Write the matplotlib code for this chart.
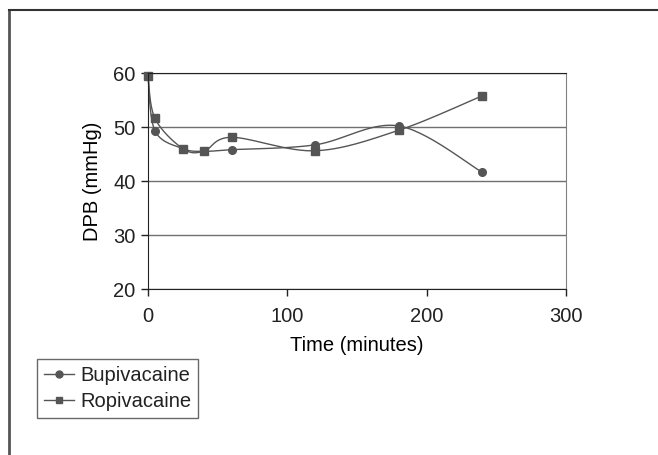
import numpy as np
import matplotlib
matplotlib.use('Agg')
import matplotlib.pyplot as plt
from matplotlib.lines import Line2D

plt.rcParams['font.family'] = ['Liberation Sans', 'DejaVu Sans']
plt.rcParams['text.color'] = '#222222'
plt.rcParams['xtick.labelcolor'] = '#222222'
plt.rcParams['ytick.labelcolor'] = '#222222'

time_min = [0, 5, 25, 40, 60, 120, 180, 240]
bupivacaine = [59.5, 49.3, 46.0, 45.5, 45.8, 46.7, 50.2, 41.6]
ropivacaine = [59.5, 51.6, 46.0, 45.5, 48.1, 45.6, 49.4, 55.8]


def smooth(x, y, n=30):
    # excel-like smoothed line (catmull-rom bezier through the points)
    x = np.asarray(x, float)
    y = np.asarray(y, float)
    px = np.concatenate([[x[0]], x, [x[-1]]])
    py = np.concatenate([[y[0]], y, [y[-1]]])
    xs, ys = [], []
    t = np.linspace(0, 1, n)
    for i in range(1, len(px) - 2):
        p0 = np.array([px[i], py[i]])
        p3 = np.array([px[i + 1], py[i + 1]])
        c1 = p0 + (np.array([px[i + 1], py[i + 1]]) - np.array([px[i - 1], py[i - 1]])) / 6
        c2 = p3 - (np.array([px[i + 2], py[i + 2]]) - np.array([px[i], py[i]])) / 6
        b = ((1 - t) ** 3)[:, None] * p0 + (3 * (1 - t) ** 2 * t)[:, None] * c1 \
            + (3 * (1 - t) * t ** 2)[:, None] * c2 + (t ** 3)[:, None] * p3
        xs.extend(b[:, 0])
        ys.extend(b[:, 1])
    return xs, ys


col = '#555555'
fs = 14.5
fig = plt.figure(figsize=(6.58, 4.55), dpi=100)
ax = fig.add_axes([0.2249, 0.3648, 0.6353, 0.4747])

sx, sy = smooth(time_min, bupivacaine)
ax.plot(sx, sy, color=col, lw=1.0, clip_on=False)
ax.plot(time_min, bupivacaine, 'o', color=col, ms=5.5, mec=col, clip_on=False)
sx, sy = smooth(time_min, ropivacaine)
ax.plot(sx, sy, color=col, lw=1.0, clip_on=False)
ax.plot(time_min, ropivacaine, 's', color=col, ms=5.5, mec=col, clip_on=False)

ax.set_xlim(0, 300)
ax.set_ylim(20, 60)
ax.set_xticks([0, 100, 200, 300])
ax.set_yticks([20, 30, 40, 50, 60])
ax.yaxis.grid(True, color='#707070', lw=1.0)
ax.set_axisbelow(True)
for s in ['left', 'bottom', 'top']:
    ax.spines[s].set_color('#222222')
ax.spines['right'].set_color('#808080')
ax.tick_params(direction='out', length=5, width=1, color='#222222', labelsize=fs)
ax.tick_params(axis='x', pad=8)
ax.tick_params(axis='y', pad=4)
ax.set_xlabel('Time (minutes)', fontsize=fs, labelpad=7)
ax.set_ylabel('DPB (mmHg)', fontsize=fs, labelpad=8)

handles = [Line2D([], [], color=col, marker='o', ms=5, lw=1.0),
           Line2D([], [], color=col, marker='s', ms=5, lw=1.0)]
leg = fig.legend(handles, ['Bupivacaine', 'Ropivacaine'], loc='upper left',
                 bbox_to_anchor=(37 / 658, 1 - 359 / 455), fontsize=fs,
                 frameon=True, fancybox=False, handlelength=1.5, handletextpad=0.3,
                 borderpad=0.35, labelspacing=0.35, borderaxespad=0)
leg.get_frame().set_edgecolor('#444444')
leg.get_frame().set_linewidth(1.0)

# outer frame of the figure
fig.add_artist(Line2D([9 / 658, 9 / 658], [0, 1 - 10 / 455], transform=fig.transFigure,
                      color='#555555', lw=2.0))
fig.add_artist(Line2D([9 / 658, 1], [1 - 10 / 455, 1 - 10 / 455], transform=fig.transFigure,
                      color='#333333', lw=1.5))

fig.savefig('out.png', dpi=100)
